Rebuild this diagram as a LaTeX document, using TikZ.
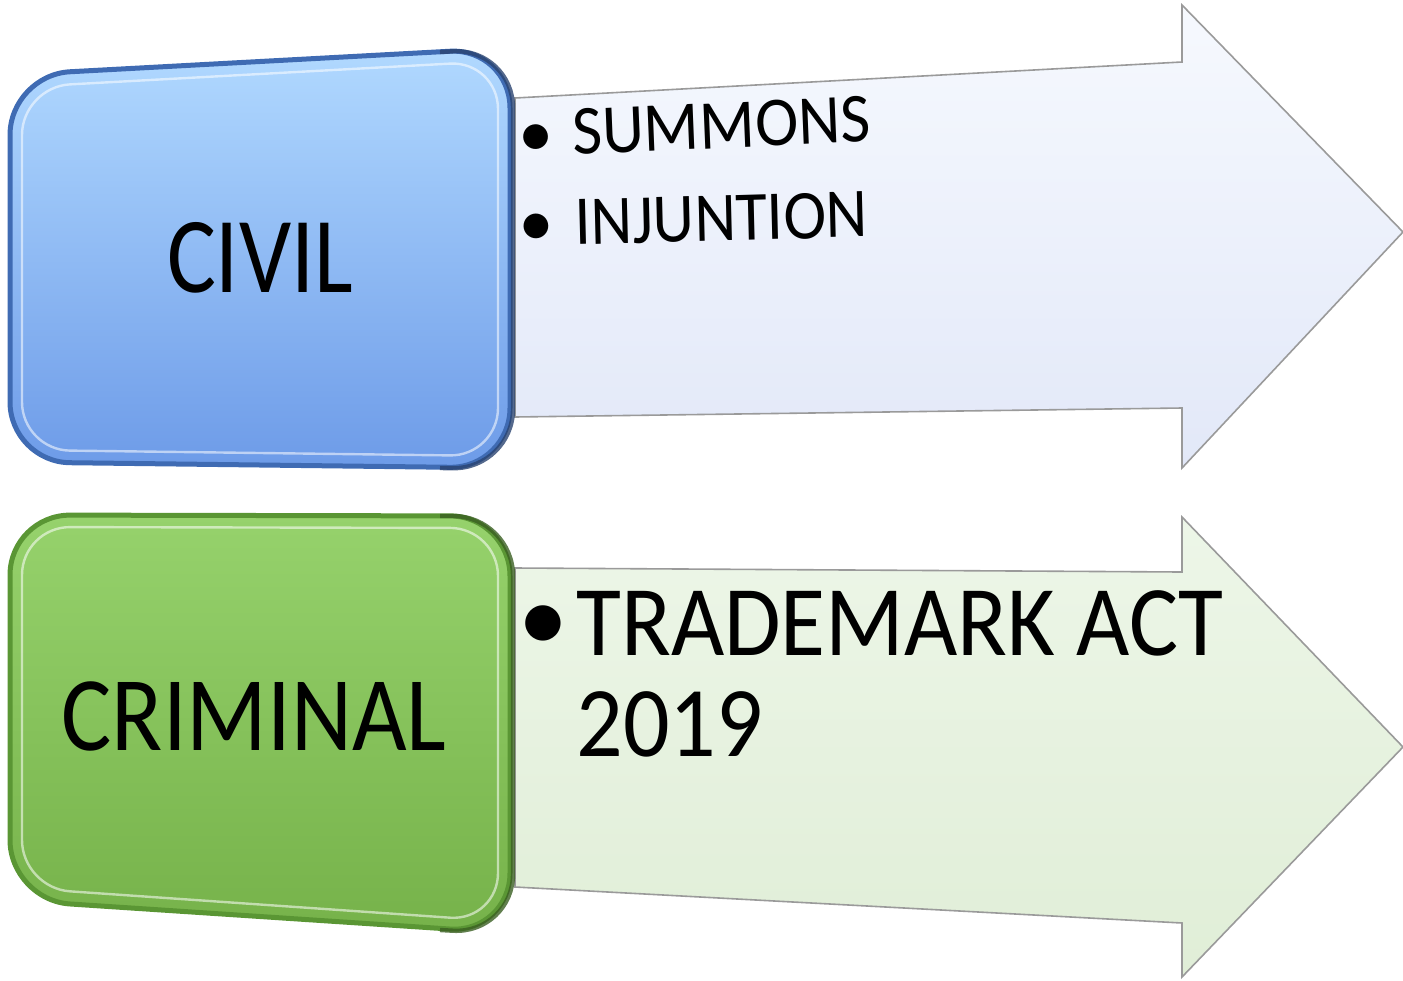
\documentclass[tikz,border=0pt]{standalone}
\usepackage{fontspec}
\setmainfont{Carlito}
\usetikzlibrary{positioning}

\definecolor{civiltop}{HTML}{B1D9FF}
\definecolor{civilbot}{HTML}{6D9BE8}
\definecolor{civilline}{HTML}{3F6BB3}
\definecolor{civildark}{HTML}{2A4470}
\definecolor{crimtop}{HTML}{96D26C}
\definecolor{crimbot}{HTML}{76B24A}
\definecolor{crimline}{HTML}{5A9634}
\definecolor{crimdark}{HTML}{3A5F22}
\definecolor{civilarrtop}{HTML}{F6F9FE}
\definecolor{civilarrbot}{HTML}{E2E8F8}
\definecolor{crimarrtop}{HTML}{EDF6E8}
\definecolor{crimarrbot}{HTML}{E0EED7}
\definecolor{arrline}{HTML}{9A9A9A}

\begin{document}
\begin{tikzpicture}[x=0.5pt, y=-0.5pt,
    arrowshape/.style={draw=arrline, line width=0.8pt, line join=miter},
    boxshape/.style={line width=2.5pt, rounded corners=30pt},
    boxedge/.style={draw=white, opacity=0.55, line width=1.2pt, rounded corners=24pt},
    boxside/.style={line width=2.2pt, rounded corners=30pt, opacity=0.8},
    bigword/.style={inner sep=0pt, anchor=base, font=\fontsize{54}{60}\selectfont},
    itemword/.style={inner sep=0pt, anchor=base west, font=\fontsize{35}{40}\selectfont},
    itemdot/.style={inner sep=0pt, anchor=base, font=\fontsize{35}{40}\selectfont}]

    \useasboundingbox (0,0) rectangle (1403,980);

    % arrows, behind the boxes
    \path[arrowshape, top color=civilarrtop, bottom color=civilarrbot]
        (515,98) -- (1182,62) -- (1182,5) -- (1403,232) -- (1182,468) -- (1182,408) -- (515,417) -- cycle;
    \path[arrowshape, top color=crimarrtop, bottom color=crimarrbot]
        (515,568) -- (1182,572) -- (1182,517) -- (1403,747) -- (1182,977) -- (1182,923) -- (515,887) -- cycle;

    % civil box
    \path[boxshape, draw=civilline, top color=civiltop, bottom color=civilbot]
        (10,270) -- (10,75) -- (510,48) -- (510,468) -- (10,462) -- cycle;
    \draw[boxedge] (22,270) -- (22,87) -- (498,61) -- (498,456) -- (22,450) -- cycle;
    \draw[boxside, civildark] (440,52) -- (513,48) -- (513,469) -- (440,468);

    % criminal box
    \path[boxshape, draw=crimline, top color=crimtop, bottom color=crimbot]
        (10,720) -- (10,515) -- (510,516) -- (510,933) -- (10,900) -- cycle;
    \draw[boxedge] (22,720) -- (22,527) -- (498,528) -- (498,921) -- (22,888) -- cycle;
    \draw[boxside, crimdark] (440,516) -- (513,516) -- (513,934) -- (440,930);

    \node[bigword, xscale=0.85] (civil) at (260,292) {CIVIL};
    \node[bigword, xscale=0.89, font=\fontsize{53}{60}\selectfont] (criminal) at (254,750) {CRIMINAL};

    \node[itemdot, rotate=2.5] (sumdot) at (537,157) {•};
    \node[itemword, xscale=0.93, rotate=2.5] (summons) at (573,155) {SUMMONS};
    \node[itemdot, rotate=1.5] (injdot) at (537,246) {•};
    \node[itemword, xscale=0.92, rotate=1.5] (injunction) at (575,245) {INJUNTION};

    \node[itemdot, font=\fontsize{50}{56}\selectfont] (tmdot) at (543,651) {•};
    \node[inner sep=0pt, anchor=north west, align=left, xscale=0.92,
          font=\fontsize{50}{50.5}\selectfont] (trademark) at (576,590) {TRADEMARK ACT\\2019};
\end{tikzpicture}
\end{document}
